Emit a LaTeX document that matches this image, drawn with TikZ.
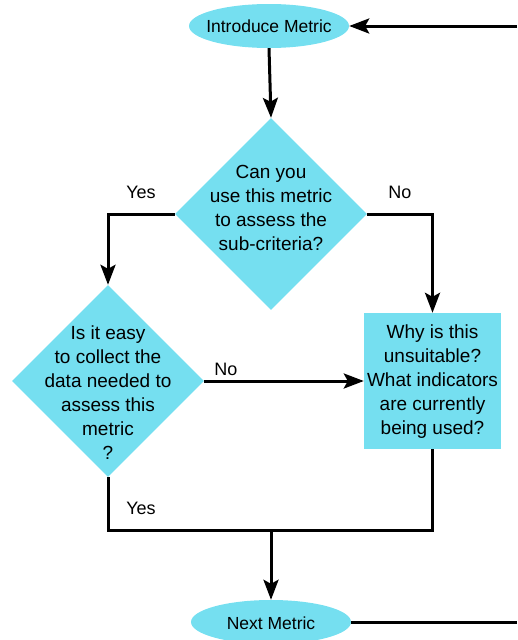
\documentclass[tikz,border=0pt]{standalone}
\usepackage{fontspec}
\setmainfont{Liberation Sans}
\usetikzlibrary{shapes.geometric,arrows.meta}
\definecolor{flowcyan}{HTML}{75DFF0}
\begin{document}
\begin{tikzpicture}[x=1pt,y=-1pt,
  conn/.style={line width=3pt},
  arr/.style={conn,-{Stealth[length=20pt,width=15pt,inset=4pt]}},
  oval/.style={ellipse,fill=flowcyan,minimum width=160pt,minimum height=44pt,inner sep=0pt},
  ovaltext/.style={inner sep=0pt,font=\fontsize{17.5}{21}\selectfont},
  dia/.style={diamond,fill=flowcyan,minimum width=192pt,minimum height=192pt,inner sep=0pt},
  btext/.style={align=center,font=\fontsize{19}{24}\selectfont,inner sep=0pt},
  lbl/.style={font=\fontsize{18}{22}\selectfont,inner sep=0pt}]
\useasboundingbox (0,0) rectangle (517,640);
% nodes
\node[oval] (intro) at (269,26) {};
\node[ovaltext] (introtext) at (269,26) {Introduce Metric};
\node[dia] (d1) at (271,214) {};
\node[btext] (t1) at (271,208) {Can you\\use this metric\\to assess the\\sub-criteria?};
\node[dia] (d2) at (108,381) {};
\node[btext] (t2) at (108,393) {Is it easy\\to collect the\\data needed to\\assess this\\metric\\?};
\node[fill=flowcyan,minimum width=137pt,minimum height=136pt,inner sep=0pt] (box) at (432.5,381) {};
\node[btext] (t3) at (432.5,382) {Why is this\\unsuitable?\\What indicators\\are currently\\being used?};
\node[oval] (next) at (271,622) {};
\node[ovaltext] (nexttext) at (271,623) {Next Metric};
% free ends and joints
\coordinate (topR) at (517,26);
\coordinate (botR) at (517,622);
\coordinate (j) at (271,530);
% connectors
\draw[arr] (topR) -- (intro.east);
\draw[arr] (intro.south) -- (d1.north);
\draw[arr] (d1.west) -| (d2.north);
\draw[arr] (d1.east) -| (box.north);
\draw[arr] (d2.east) -- (box.west);
\draw[conn] (d2.south) |- (j) -| (box.south);
\draw[arr] (j) -- (next.north);
\draw[conn] (next.east) -- (botR);
% labels
\node[lbl] (yes1) at (141,192) {Yes};
\node[lbl] (no1) at (400,192) {No};
\node[lbl] (no2) at (226,369) {No};
\node[lbl] (yes2) at (141,508) {Yes};
\end{tikzpicture}
\end{document}
